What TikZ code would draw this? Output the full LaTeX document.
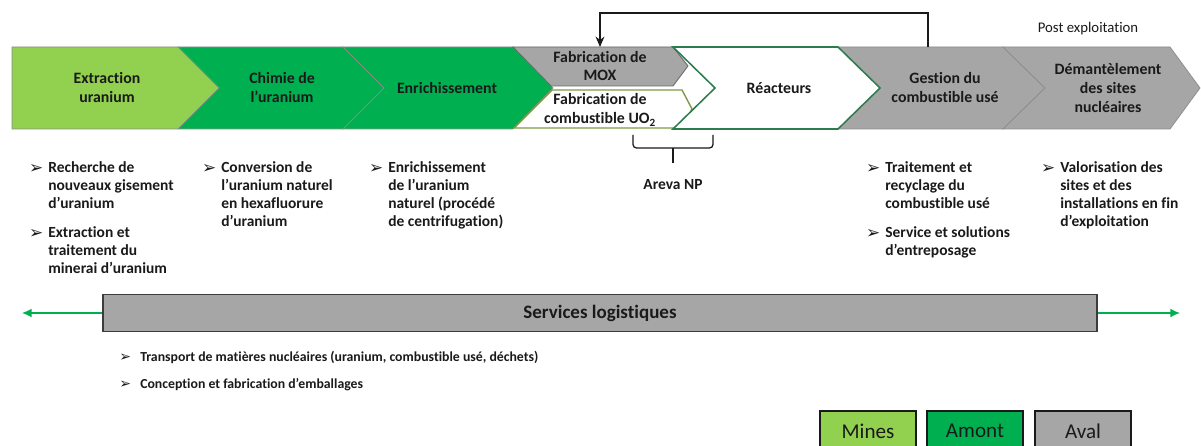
\documentclass[tikz,border=0pt]{standalone}
\usepackage{fontspec}
\setmainfont{Carlito}[Ligatures=NoCommon]
\newfontfamily\symfont{DejaVu Sans}
\usetikzlibrary{arrows.meta,calc}
\definecolor{ink}{HTML}{1A1A1A}
\definecolor{mines}{HTML}{92D050}
\definecolor{amont}{HTML}{00B050}
\definecolor{aval}{HTML}{A6A6A6}
\definecolor{reacline}{HTML}{2E7B4F}
\definecolor{uoline}{HTML}{7E9A46}

\begin{document}
\begin{tikzpicture}[x=0.025cm,y=-0.025cm,
  chevron/.style={draw=black!45,line width=0.5pt},
  stage/.style={align=center,inner sep=0pt,text=ink,font=\bfseries\fontsize{11.25}{13.5}\selectfont},
  item/.style={anchor=north west,align=left,inner sep=0pt,text=ink,font=\bfseries\fontsize{11}{13}\selectfont,execute at begin node=\strut},
  smallitem/.style={anchor=base west,inner sep=0pt,text=ink,font=\bfseries\fontsize{9.8}{11}\selectfont},
  bulsym/.style={anchor=base west,inner sep=0pt,text=ink,font=\symfont\fontsize{12}{14}\selectfont},
  legendbox/.style={draw=ink,line width=0.8pt,minimum width=2.4cm,minimum height=1cm,inner sep=0pt,text=ink,font=\fontsize{15}{18}\selectfont},
  greenarrow/.style={draw=amont,line width=1pt,-{Latex[length=2.4mm,width=2.2mm]}}]
  \clip (0,0) rectangle (1201,446);
  \fill[white] (0,0) rectangle (1201,446);

  % main chain of chevrons
  \foreach \xl/\nl/\xr/\np/\col/\nm/\cx/\txt in {
    12/0/178/41/mines/extr/107/{Extraction\\uranium},
    178/41/343/41/amont/chim/282/{Chimie de\\l'uranium},
    343/41/513/40/amont/enri/447/{Enrichissement},
    838/42/1003/42/aval/gest/945/{Gestion du\\combustible usé},
    1003/42/1170/30/aval/dema/1108/{Démantèlement\\des sites\\nucléaires}} {
    \draw[chevron,fill=\col] (\xl,47) -- (\xr,47) -- (\xr+\np,88) -- (\xr,129) -- (\xl,129) -- (\xl+\nl,88) -- cycle;
    \node[stage] (\nm) at (\cx,88) {\txt};
  }

  % fuel fabrication and reactors
  \draw[draw=black!60,line width=0.6pt,fill=aval] (513,47) -- (673,47) -- (688,66) -- (673,86) -- (551,86) -- cycle;
  \node[stage] (mox) at (600,66) {Fabrication de\\MOX};
  \draw[draw=uoline,line width=1pt,fill=white] (552,90) -- (682,90) -- (692,109) -- (682,128) -- (514,128) -- cycle;
  \node[stage] (uo2) at (600,110) {Fabrication de\\combustible UO\textsubscript{2}};
  \draw[draw=reacline,line width=1.1pt,fill=white] (673,47) -- (838,47) -- (880,88) -- (838,129) -- (673,129) -- (715,88) -- cycle;
  \node[stage] (reac) at (779,88) {Réacteurs};
  \node[text=ink,inner sep=0pt,font=\fontsize{10.5}{12}\selectfont] (post) at (1088,29) {Post exploitation};

  % recycling loop
  \coordinate (fbfrom) at (928,47);
  \coordinate (fbto) at (600,47);
  \draw[ink,line width=0.9pt,-{Stealth[length=2.6mm,width=2.2mm]}] (fbfrom) -- ++(0,-34) -| (fbto);

  % Areva NP bracket
  \coordinate (brL) at (633,135);
  \coordinate (brR) at (713,135);
  \coordinate (brM) at (673,148);
  \coordinate (brTip) at (673,163);
  \draw[ink,line width=0.9pt,rounded corners=2.5pt] (brL) |- (brM) -| (brR);
  \draw[ink,line width=0.9pt] (brM) -- (brTip);
  \node[stage,font=\bfseries\fontsize{11}{13}\selectfont] (areva) at (673,185) {Areva NP};

  % activity lists
  \foreach \bx/\by/\nm/\txt in {
    48/161/lst1a/{Recherche de\\nouveaux gisement\\d'uranium},
    48/226/lst1b/{Extraction et\\traitement du\\minerai d'uranium},
    221/161/lst2/{Conversion de\\l'uranium naturel\\en hexafluorure\\d'uranium},
    388/161/lst3/{Enrichissement\\de l'uranium\\naturel (procédé\\de centrifugation)},
    885/161/lst4a/{Traitement et\\recyclage du\\combustible usé},
    885/226/lst4b/{Service et solutions\\d'entreposage},
    1060/161/lst5/{Valorisation des\\sites et des\\installations en fin\\d'exploitation}} {
    \node[item] (\nm) at (\bx,\by) {\txt};
    \node[bulsym] at ([xshift=-0.48cm,yshift=-9.1pt]\nm.north west) {➢};
  }

  % logistics
  \node[draw=ink!85,line width=1pt,fill=aval,minimum width=24.85cm,minimum height=0.92cm,inner sep=0pt,text=ink,font=\bfseries\fontsize{13.5}{16}\selectfont] (svc) at (600,313) {Services logistiques};
  \coordinate (svcL) at (22,313);
  \coordinate (svcR) at (1180,313);
  \draw[greenarrow] (svc.west) -- (svcL);
  \draw[greenarrow] (svc.east) -- (svcR);
  \foreach \by/\nm/\txt in {
    361/log1/{Transport de matières nucléaires (uranium, combustible usé, déchets)},
    388/log2/{Conception et fabrication d'emballages}} {
    \node[smallitem] (\nm) at (140,\by) {\txt};
    \node[bulsym,font=\symfont\fontsize{10}{12}\selectfont] at ([xshift=-0.52cm]\nm.base west) {➢};
  }

  % legend
  \node[legendbox,fill=mines] (legmines) at (868,431) {Mines};
  \node[legendbox,fill=amont] (legamont) at (975,431) {Amont};
  \node[legendbox,fill=aval] (legaval) at (1083,431) {Aval};
\end{tikzpicture}
\end{document}
